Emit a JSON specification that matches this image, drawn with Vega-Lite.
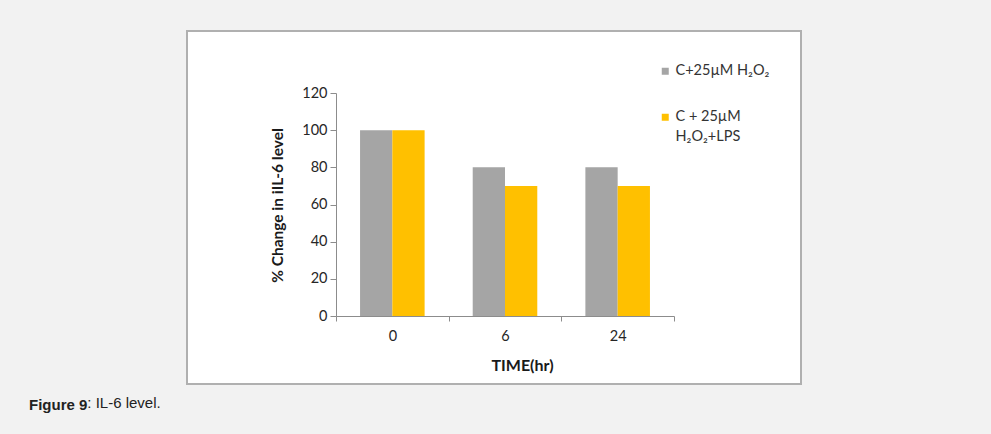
{
  "$schema": "https://vega.github.io/schema/vega-lite/v6.json",
  "width": 614,
  "height": 353,
  "autosize": {"type": "none"},
  "padding": {"left": 187, "top": 31, "right": 190, "bottom": 50},
  "background": "#f2f2f2",
  "view": {"fill": "#ffffff", "stroke": "#b0b0b0", "strokeWidth": 2},
  "data": {
    "values": [
      {"time": "0", "group": "C+25µM H₂O₂", "value": 100},
      {"time": "0", "group": "C + 25µM H₂O₂+LPS", "value": 100},
      {"time": "6", "group": "C+25µM H₂O₂", "value": 80},
      {"time": "6", "group": "C + 25µM H₂O₂+LPS", "value": 70},
      {"time": "24", "group": "C+25µM H₂O₂", "value": 80},
      {"time": "24", "group": "C + 25µM H₂O₂+LPS", "value": 70}
    ]
  },
  "mark": {"type": "bar"},
  "encoding": {
    "x": {
      "field": "time",
      "type": "nominal",
      "sort": ["0", "6", "24"],
      "scale": {"range": [149, 487], "paddingInner": 0, "paddingOuter": 0},
      "axis": {
        "title": "TIME(hr)",
        "labelAngle": 0,
        "offset": -68,
        "tickBand": "extent",
        "tickSize": 5,
        "tickColor": "#8c8c8c",
        "domainColor": "#8c8c8c",
        "labelPadding": 8,
        "labelFont": "Lato",
        "labelFontSize": 14.5,
        "labelColor": "#262626",
        "titleFont": "Lato",
        "titleFontSize": 16,
        "titleFontWeight": "bold",
        "titleColor": "#1a1a1a",
        "titleX": 335,
        "titleY": 49,
        "titleBaseline": "middle",
        "titleAlign": "center"
      }
    },
    "xOffset": {
      "field": "group",
      "type": "nominal",
      "sort": ["C+25µM H₂O₂", "C + 25µM H₂O₂+LPS"],
      "scale": {"paddingOuter": 0.745, "paddingInner": 0}
    },
    "y": {
      "field": "value",
      "type": "quantitative",
      "scale": {"domain": [0, 120], "range": [285, 62], "nice": false},
      "axis": {
        "title": "% Change in iIL-6 level",
        "values": [0, 20, 40, 60, 80, 100, 120],
        "grid": false,
        "offset": -149,
        "tickSize": 6,
        "tickColor": "#8c8c8c",
        "domainColor": "#8c8c8c",
        "labelPadding": 3,
        "labelFont": "Lato",
        "labelFontSize": 14.5,
        "labelColor": "#262626",
        "titleFont": "Lato",
        "titleFontSize": 15.5,
        "titleFontWeight": "bold",
        "titleColor": "#1a1a1a",
        "titleX": -59,
        "titleY": 174,
        "titleAngle": -90,
        "titleBaseline": "middle",
        "titleAlign": "center"
      }
    },
    "color": {
      "field": "group",
      "type": "nominal",
      "scale": {
        "domain": ["C+25µM H₂O₂", "C + 25µM H₂O₂+LPS"],
        "range": ["#a5a5a5", "#ffc000"]
      },
      "legend": {
        "title": null,
        "orient": "none",
        "legendX": 471,
        "legendY": 33,
        "symbolType": "square",
        "symbolSize": 49,
        "symbolStrokeWidth": 0,
        "labelFont": "Lato",
        "labelFontSize": 14.5,
        "labelColor": "#333333",
        "labelOffset": 3,
        "labelBaseline": "middle",
        "rowPadding": 31,
        "labelExpr": "datum.label == 'C + 25µM H₂O₂+LPS' ? ['C + 25µM', 'H₂O₂+LPS'] : datum.label",
        "encode": {"labels": {"update": {"lineHeight": {"value": 20}}}}
      }
    }
  },
  "title": {
    "text": "Figure 9",
    "subtitle": "\u200b\u00a0\u00a0\u00a0\u00a0\u00a0\u00a0\u00a0\u00a0\u00a0\u00a0\u00a0\u00a0\u00a0\u00a0: IL-6 level.",
    "orient": "bottom",
    "anchor": "start",
    "frame": "group",
    "dx": -158,
    "offset": 14,
    "font": "Liberation Sans",
    "fontSize": 15,
    "fontWeight": "bold",
    "color": "#222222",
    "subtitleFont": "Liberation Sans",
    "subtitleFontSize": 15,
    "subtitleFontWeight": "normal",
    "subtitleColor": "#222222",
    "subtitlePadding": -17
  }
}
